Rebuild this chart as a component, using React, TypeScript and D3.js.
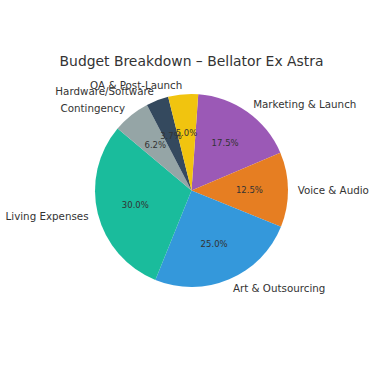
import React from "react";
import * as d3 from "d3";

const categories = [
  "Marketing & Launch",
  "Voice & Audio",
  "Art & Outsourcing",
  "Living Expenses",
  "Contingency",
  "Hardware/Software",
  "QA & Post-Launch",
];
const values = [17.5, 12.5, 25, 30, 6.25, 3.75, 5];
const colors = ["#9b59b6", "#e67e22", "#3498db", "#1abc9c", "#95a5a6", "#34495e", "#f1c40f"];
const title = "Budget Breakdown – Bellator Ex Astra";

const width = 375;
const height = 366;
const cx = 191.5;
const cy = 190.5;
const radius = 96.5;
const start = (4 * Math.PI) / 180;

export default function App() {
  const data = categories.map((name, i) => ({ name, value: values[i], color: colors[i] }));
  const total = d3.sum(values);

  const pie = d3.pie<any>()
    .sort(null)
    .startAngle(start)
    .endAngle(start + 2 * Math.PI)
    .value(d => d.value);
  const arcs = pie(data);

  const arc = d3.arc<any>().innerRadius(0).outerRadius(radius);
  const mid = (d: any) => (d.startAngle + d.endAngle) / 2;
  const fmt = d3.format(".1f");

  return (
    <svg width={width} height={height} style={{ position: "absolute", left: 0, top: 0, fontFamily: "DejaVu Sans" }}>
      <rect width={width} height={height} fill="#fff" />
      <text x={cx} y={61} textAnchor="middle" dominantBaseline="central" fontSize={13.9} fill="#333">
        {title}
      </text>
      <g transform={`translate(${cx},${cy})`}>
        {arcs.map(d => (
          <path key={d.data.name} d={arc(d) || ""} fill={d.data.color} />
        ))}
        {arcs.map(d => {
          const a = mid(d);
          const x = Math.sin(a) * radius * 1.1;
          const y = -Math.cos(a) * radius * 1.1;
          return (
            <text key={"l" + d.data.name} x={x} y={y} textAnchor={x > 0 ? "start" : "end"}
              dominantBaseline="central" fontSize={10.3} fill="#333">
              {d.data.name}
            </text>
          );
        })}
        {arcs.map(d => {
          const a = mid(d);
          const x = Math.sin(a) * radius * 0.6;
          const y = -Math.cos(a) * radius * 0.6;
          return (
            <text key={"p" + d.data.name} x={x} y={y} textAnchor="middle"
              dominantBaseline="central" fontSize={8.5} fill="#333">
              {fmt((d.data.value / total) * 100 - 1e-9)}%
            </text>
          );
        })}
      </g>
    </svg>
  );
}
